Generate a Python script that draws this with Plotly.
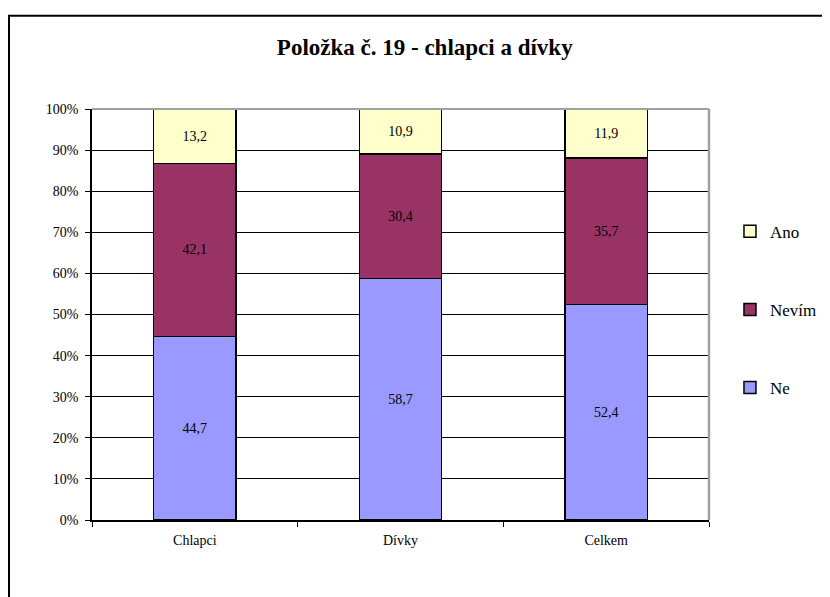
import plotly.graph_objects as go

categories = ['Chlapci', 'Dívky', 'Celkem']
ne = [44.7, 58.7, 52.4]
nevim = [42.1, 30.4, 35.7]
ano = [13.2, 10.9, 11.9]
y_ticks = [0, 10, 20, 30, 40, 50, 60, 70, 80, 90, 100]

SERIF = 'Liberation Serif'

# stacking order bottom -> top, legend rank top -> bottom
series = [('Ne', ne, '#9999FF', 3), ('Nevím', nevim, '#993366', 2), ('Ano', ano, '#FFFFCC', 1)]

fig = go.Figure()
for name, vals, color, rank in series:
    fig.add_trace(go.Bar(
        x=categories, y=vals, name=name, legendgroup=name, legendrank=rank,
        marker=dict(color=color, line=dict(color='black', width=1.5)),
        width=0.4,
        texttemplate='%{y:.1f}', textposition='inside', insidetextanchor='middle',
        textfont=dict(family=SERIF, size=14, color='black'),
        textangle=0,
    ))

# page body has an 8px margin, so the figure is a bit smaller than the window
fig.update_layout(
    width=822, height=589,
    barmode='stack',
    separators=', ',
    paper_bgcolor='white', plot_bgcolor='white',
    margin=dict(l=84, r=121, t=101, b=77, autoexpand=False),
    font=dict(family=SERIF, color='black'),
    title=dict(text='<b>Položka č. 19 - chlapci a dívky</b>', x=0.507, xanchor='center',
               y=0.934, yanchor='middle', font=dict(size=23, family=SERIF)),
    legend=dict(x=1.034, xanchor='left', y=0.745, yanchor='top',
                traceorder='grouped', tracegroupgap=53, itemwidth=30,
                font=dict(size=17, family=SERIF)),
    uniformtext=dict(minsize=14, mode='show'),
)

fig.update_yaxes(range=[0, 100], tickvals=y_ticks, ticktext=[f'{v}%' for v in y_ticks],
                 showgrid=True, gridcolor='black', gridwidth=1,
                 showline=True, linecolor='black', linewidth=1.5,
                 ticks='outside', ticklen=5, tickcolor='black', ticklabelstandoff=4,
                 tickfont=dict(size=14, family=SERIF), zeroline=False)
fig.update_xaxes(showline=True, linecolor='black', linewidth=1.5,
                 ticks='outside', ticklen=5, tickcolor='black', tickson='boundaries',
                 ticklabelstandoff=6,
                 tickfont=dict(size=14, family=SERIF), showgrid=False)

# grey plot-area border (top and right), outer chart frame
fig.add_shape(type='line', xref='paper', yref='paper', x0=0, x1=1, y0=1, y1=1,
              line=dict(color='#a0a0a0', width=2))
fig.add_shape(type='line', xref='paper', yref='paper', x0=1, x1=1, y0=0, y1=1,
              line=dict(color='#a0a0a0', width=2.5))
fig.add_shape(type='rect', xref='paper', yref='paper', x0=-0.1345, x1=1.35, y0=-0.3, y1=1.227,
              line=dict(color='black', width=2), layer='below')

fig.write_html('out.html')
